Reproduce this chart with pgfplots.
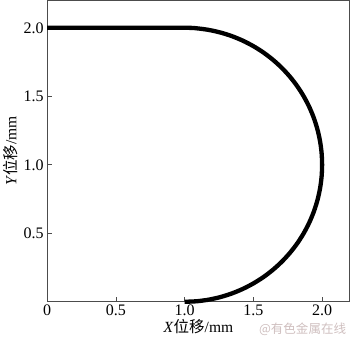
\documentclass[border=0pt]{standalone}
\usepackage{pgfplots}
\pgfplotsset{compat=1.18}
\usepackage{fontspec}
\setmainfont{Liberation Serif}
\newfontfamily\cjk{Noto Sans CJK SC}
\begin{document}
\begin{tikzpicture}
\begin{axis}[
  scale only axis,
  width=302pt, height=301pt,
  xmin=0, xmax=2.2, ymin=0, ymax=2.2,
  axis line style={draw=black!70, line width=0.8pt},
  xtick={0,0.5,1.0,1.5,2.0},
  xticklabels={0,0.5,1.0,1.5,2.0},
  ytick={0.5,1.0,1.5,2.0},
  yticklabels={0.5,1.0,1.5,2.0},
  tick align=inside,
  xtick pos=bottom, ytick pos=left,
  major tick length=5pt,
  tick style={black!70, line width=0.8pt},
  /pgf/number format/assume math mode=true,
  ticklabel style={font=\fontsize{16}{16}\selectfont},
  xlabel={\textit{X}{\cjk 位移}/mm},
  ylabel={\textit{Y}{\cjk 位移}/mm},
  label style={font=\fontsize{15.5}{15.5}\selectfont},
  xlabel style={yshift=4pt},
  ylabel style={yshift=-1pt},
  clip=false,
]
\addplot[black, line width=4.3pt, smooth, line join=round] coordinates {
(0,2) (0.5,2) (1.0,2)
(1.0872,1.9962) (1.1736,1.9848) (1.2588,1.9659) (1.3420,1.9397) (1.4226,1.9063)
(1.5,1.8660) (1.5736,1.8192) (1.6428,1.7660) (1.7071,1.7071) (1.7660,1.6428)
(1.8192,1.5736) (1.8660,1.5) (1.9063,1.4226) (1.9397,1.3420) (1.9659,1.2588)
(1.9848,1.1736) (1.9962,1.0872) (2,1)
(1.9962,0.9128) (1.9848,0.8264) (1.9659,0.7412) (1.9397,0.6580) (1.9063,0.5774)
(1.8660,0.5) (1.8192,0.4264) (1.7660,0.3572) (1.7071,0.2929) (1.6428,0.2340)
(1.5736,0.1808) (1.5,0.1340) (1.4226,0.0937) (1.3420,0.0603) (1.2588,0.0341)
(1.1736,0.0152) (1.0872,0.0038) (1.0,0)
};
\node[anchor=east, text=red!25!black!25, font=\cjk\fontsize{12.5}{12.5}\selectfont] at (rel axis cs:1,0) [yshift=-27pt] {@有色金属在线};
\end{axis}
\end{tikzpicture}
\end{document}
